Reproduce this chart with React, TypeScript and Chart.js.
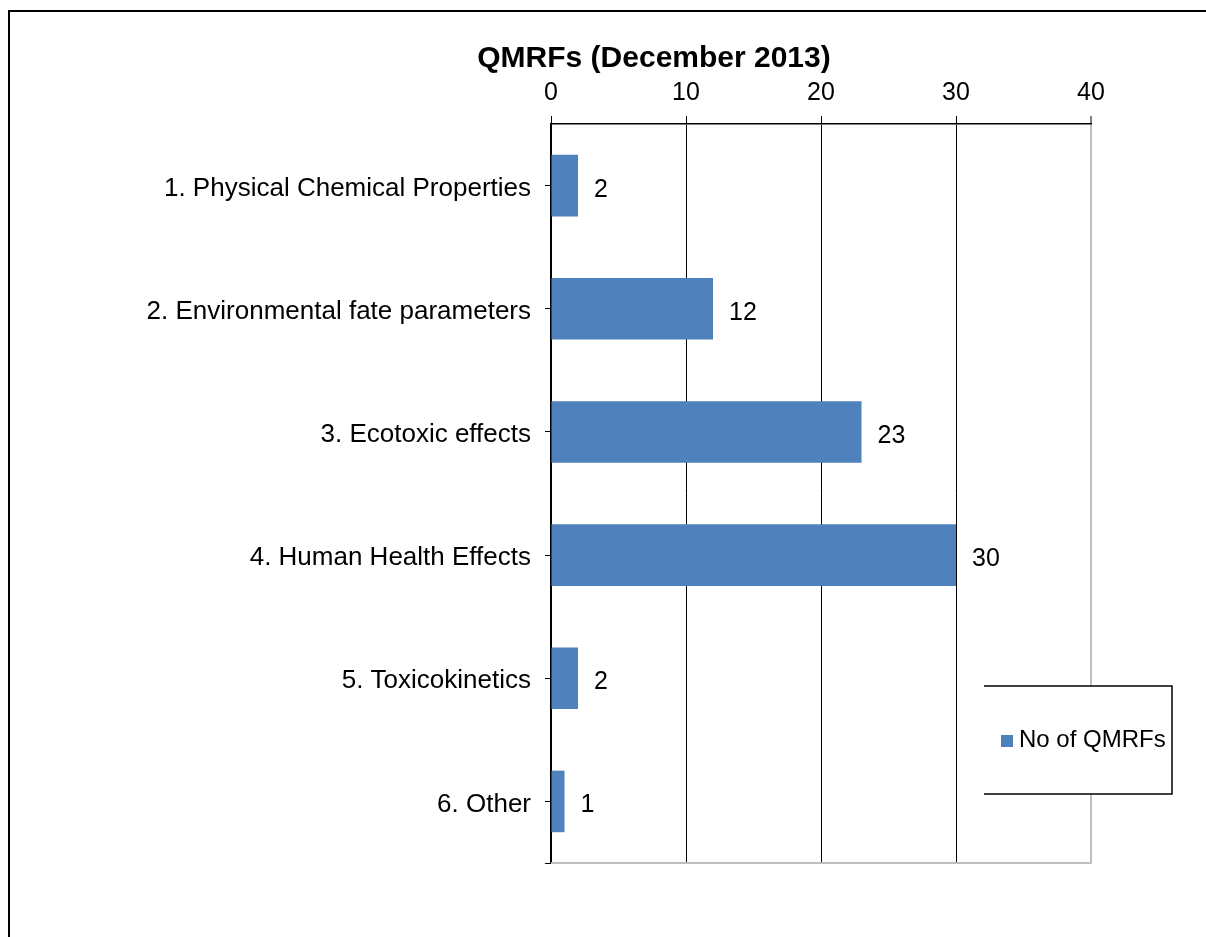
import React, { useEffect, useRef } from "react";
import { Chart, registerables } from "chart.js";

Chart.register(...registerables);

const TITLE = "QMRFs (December 2013)";
const categories = [
  "1. Physical Chemical Properties",
  "2. Environmental fate parameters",
  "3. Ecotoxic effects",
  "4. Human Health Effects",
  "5. Toxicokinetics",
  "6. Other",
];
const seriesName = "No of QMRFs";
const values = [2, 12, 23, 30, 2, 1];
const xTicks = [0, 10, 20, 30, 40];

const FONT = "'Liberation Sans', Arial, Helvetica, sans-serif";
const BAR = "#4F81BD";
const GRAY = "#BFBFBF";

export default function App() {
  const ref = useRef<HTMLCanvasElement>(null);

  useEffect(() => {
    if (!ref.current) return;
    const decor = {
      id: "decor",
      afterDatasetsDraw(chart: any) {
        const ctx = chart.ctx;
        const meta = chart.getDatasetMeta(0);
        ctx.save();
        ctx.font = `25px ${FONT}`;
        ctx.fillStyle = "#000";
        ctx.textAlign = "left";
        ctx.textBaseline = "alphabetic";
        meta.data.forEach((el: any, i: number) => {
          ctx.fillText(String(values[i]), el.x + 16, el.y + 11);
        });
        ctx.restore();
      },
      afterDraw(chart: any) {
        const ctx = chart.ctx;
        const a = chart.chartArea;
        ctx.save();
        // bottom plot border (gray)
        ctx.strokeStyle = GRAY;
        ctx.lineWidth = 2;
        ctx.beginPath();
        ctx.moveTo(a.left, a.bottom);
        ctx.lineTo(a.right + 1, a.bottom);
        ctx.stroke();
        // small left tick at bottom
        ctx.strokeStyle = "#000";
        ctx.lineWidth = 1;
        ctx.beginPath();
        ctx.moveTo(a.left - 6, a.bottom + 0.5);
        ctx.lineTo(a.left, a.bottom + 0.5);
        ctx.stroke();

        // title
        ctx.font = `bold 30px ${FONT}`;
        ctx.fillStyle = "#000";
        ctx.textAlign = "center";
        ctx.textBaseline = "alphabetic";
        ctx.fillText(TITLE, a.left + 103, a.top - 57);

        // legend box
        const lx = a.left + 433;
        const rx = a.right + 81;
        const ty = a.top + 562;
        const by = a.top + 670;
        ctx.fillStyle = "#fff";
        ctx.fillRect(lx, ty, rx - lx, by - ty);
        ctx.strokeStyle = "#000";
        ctx.lineWidth = 1.5;
        ctx.beginPath();
        ctx.moveTo(lx, ty);
        ctx.lineTo(rx, ty);
        ctx.lineTo(rx, by);
        ctx.lineTo(lx, by);
        ctx.stroke();
        ctx.fillStyle = BAR;
        ctx.fillRect(lx + 17, ty + 49, 12, 12);
        ctx.fillStyle = "#000";
        ctx.font = `24px ${FONT}`;
        ctx.textAlign = "left";
        ctx.fillText(seriesName, lx + 35, ty + 61);
        ctx.restore();
      },
    };

    const chart = new Chart(ref.current, {
      type: "bar",
      data: {
        labels: categories,
        datasets: [
          {
            label: seriesName,
            data: values,
            backgroundColor: BAR,
            borderWidth: 0,
            categoryPercentage: 1,
            barPercentage: 0.5,
          },
        ],
      },
      options: {
        indexAxis: "y",
        responsive: false,
        maintainAspectRatio: false,
        animation: false,
        layout: { padding: { left: 0, top: 74, right: 115, bottom: 74 } },
        plugins: {
          legend: { display: false },
          title: { display: false },
          tooltip: { enabled: false },
        },
        scales: {
          x: {
            type: "linear",
            position: "top",
            min: 0,
            max: 40,
            afterBuildTicks(scale: any) {
              scale.ticks = xTicks.map((v) => ({ value: v }));
            },
            grid: {
              color: (c: any) => (c.tick && c.tick.value === 40 ? GRAY : "#000"),
              lineWidth: (c: any) => (c.tick && c.tick.value === 40 ? 2 : 1),
              tickLength: 8,
              tickColor: "#000",
              tickWidth: 1,
            },
            border: { display: true, color: "#000", width: 1.5 },
            ticks: {
              font: { family: FONT, size: 25 },
              color: "#000",
              padding: 8,
            },
            afterFit(scale: any) {
              scale.height = 50;
            },
          },
          y: {
            type: "category",
            position: "left",
            grid: {
              display: true,
              drawOnChartArea: false,
              offset: false,
              tickLength: 6,
              color: "#000",
              lineWidth: 1,
            },
            border: { display: true, color: "#000", width: 1.5 },
            ticks: {
              font: { family: FONT, size: 26 },
              color: "#000",
              padding: 14,
              labelOffset: 3,
              autoSkip: false,
            },
            afterFit(scale: any) {
              scale.width = 551;
            },
          },
        },
      },
      plugins: [decor],
    } as any);

    return () => chart.destroy();
  }, []);

  return (
    <div
      style={{
        position: "absolute",
        left: 0,
        top: 0,
        width: 1206,
        height: 937,
        background: "#fff",
        overflow: "hidden",
      }}
    >
      <div
        style={{
          position: "absolute",
          left: 8,
          top: 10,
          right: 0,
          bottom: 0,
          borderLeft: "2px solid #000",
          borderTop: "2px solid #000",
        }}
      />
      <canvas
        ref={ref}
        width={1206}
        height={937}
        style={{ position: "absolute", left: 0, top: 0, width: 1206, height: 937 }}
      />
    </div>
  );
}
